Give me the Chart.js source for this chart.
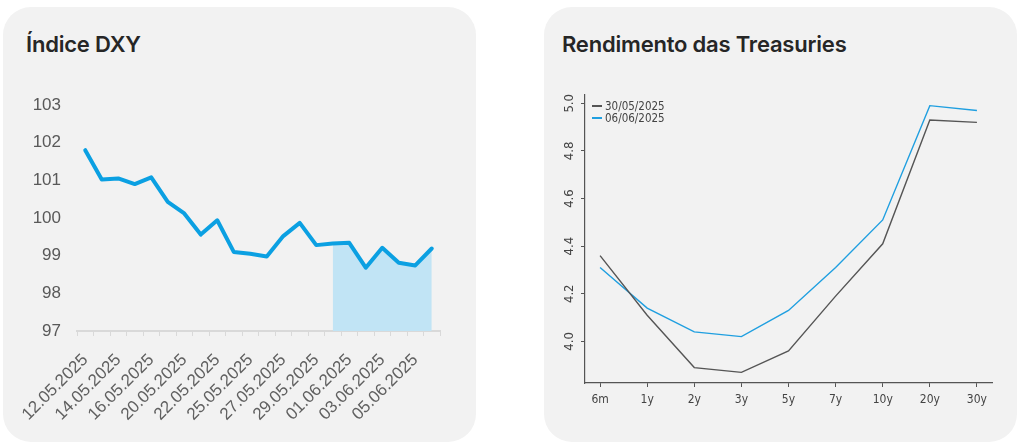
<!DOCTYPE html>
<html>
<head>
<meta charset="utf-8">
<script src="https://cdn.jsdelivr.net/npm/chart.js@4.4.1/dist/chart.umd.min.js"></script>
<style>
  html, body { margin: 0; padding: 0; background: #ffffff; }
  body { width: 1024px; height: 444px; position: relative; overflow: hidden; }
  .card { position: absolute; background: #f2f2f2; border-radius: 28px; }
  .title { position: absolute; font-family: Inter, 'Noto Sans', sans-serif; font-weight: 600; font-size: 22px; color: #262626; letter-spacing: -0.2px; }
  .wrap { position: absolute; }
  .legend { position: absolute; font-family: 'Liberation Sans Narrow', 'DejaVu Sans Condensed', sans-serif; font-size: 11.5px; color: #444; line-height: 12px; }
  .legend div { display: flex; align-items: center; height: 12px; }
  .legend span.sw { display: inline-block; width: 10px; height: 1.5px; margin-right: 3px; }
</style>
</head>
<body>
<div class="card" style="left:3px;top:7px;width:473px;height:435px;"></div>
<div class="card" style="left:544px;top:7px;width:473px;height:435px;"></div>
<div class="title" style="left:26px;top:31px;">Índice DXY</div>
<div class="title" style="left:562px;top:31px;">Rendimento das Treasuries</div>
<div class="wrap" style="left:3px;top:7px;width:473px;height:435px;"><canvas id="dxy"></canvas></div>
<div class="wrap" style="left:544px;top:7px;width:473px;height:435px;"><canvas id="tsy"></canvas></div>
<div class="legend" id="legend" style="left:592px;top:100px;"></div>
<script>
// ---- DXY data ----
const dxyDates = ['12.05.2025','13.05.2025','14.05.2025','15.05.2025','16.05.2025','19.05.2025','20.05.2025','21.05.2025','22.05.2025','23.05.2025','25.05.2025','26.05.2025','27.05.2025','28.05.2025','29.05.2025','30.05.2025','01.06.2025','02.06.2025','03.06.2025','04.06.2025','05.06.2025','06.06.2025'];
const dxyValues = [101.80,101.02,101.05,100.90,101.08,100.43,100.12,99.56,99.94,99.10,99.05,98.98,99.52,99.87,99.28,99.32,99.34,98.68,99.21,98.81,98.74,99.19];
const dxyHighlightStart = 15;
const dxyMin = 97, dxyMax = 103;

// ---- Treasuries data ----
const tenors = ['6m','1y','2y','3y','5y','7y','10y','20y','30y'];
const yields3005 = [4.36,4.11,3.89,3.87,3.96,4.19,4.41,4.93,4.92];
const yields0606 = [4.31,4.14,4.04,4.02,4.13,4.31,4.51,4.99,4.97];
const seriesLabels = ['30/05/2025','06/06/2025'];
const yieldTicks = [4.0,4.2,4.4,4.6,4.8,5.0];

const blue = '#0ba0e2';
const fillBlue = '#c1e4f5';
const leftFont = { family: "'Liberation Sans', Arial, sans-serif", size: 17 };

new Chart(document.getElementById('dxy'), {
  type: 'line',
  data: {
    labels: dxyDates,
    datasets: [
      {
        data: dxyValues,
        borderColor: blue,
        borderWidth: 4,
        borderJoinStyle: 'round',
        borderCapStyle: 'round',
        pointRadius: 0,
        tension: 0,
        fill: false
      },
      {
        data: dxyValues.map((v, i) => i >= dxyHighlightStart ? v : null),
        borderWidth: 0,
        borderColor: 'rgba(0,0,0,0)',
        backgroundColor: fillBlue,
        pointRadius: 0,
        tension: 0,
        fill: 'start'
      }
    ]
  },
  options: {
    responsive: true,
    maintainAspectRatio: false,
    animation: false,
    layout: { padding: { top: 98, right: 36, left: 0, bottom: 0 } },
    plugins: { legend: { display: false }, tooltip: { enabled: false } },
    scales: {
      x: {
        offset: true,
        grid: { display: true, drawOnChartArea: false, drawTicks: true, tickLength: 5, offset: true, color: '#d9d9d9', lineWidth: 1 },
        border: { display: true, color: '#d9d9d9', width: 2 },
        ticks: {
          autoSkip: false,
          minRotation: 45,
          maxRotation: 45,
          padding: 14,
          color: '#606060',
          font: { family: "'Liberation Sans', Arial, sans-serif", size: 17 },
          callback: (v, i) => (i % 2 === 0 ? dxyDates[i] : '')
        },
        afterFit: (s) => { s.height = 111; }
      },
      y: {
        min: dxyMin,
        max: dxyMax,
        grid: { display: false, drawTicks: false },
        border: { display: false },
        ticks: {
          stepSize: 1,
          padding: 16,
          color: '#595959',
          font: leftFont
        },
        afterFit: (s) => { s.width = 74; }
      }
    }
  }
});

const gray = '#555555';
const tsyBlue = '#1f9fe0';
const tsyFont = { family: "'Liberation Sans Narrow', 'DejaVu Sans Condensed', sans-serif", size: 12 };

new Chart(document.getElementById('tsy'), {
  type: 'line',
  data: {
    datasets: [
      {
        label: seriesLabels[0],
        data: yields3005.map((v, i) => ({ x: i, y: v })),
        borderColor: gray,
        borderWidth: 1.4,
        pointRadius: 0,
        tension: 0
      },
      {
        label: seriesLabels[1],
        data: yields0606.map((v, i) => ({ x: i, y: v })),
        borderColor: tsyBlue,
        borderWidth: 1.4,
        pointRadius: 0,
        tension: 0
      }
    ]
  },
  options: {
    responsive: true,
    maintainAspectRatio: false,
    animation: false,
    layout: { padding: { top: 88, right: 25, left: 0, bottom: 0 } },
    plugins: { legend: { display: false }, tooltip: { enabled: false } },
    scales: {
      x: {
        type: 'linear',
        min: -0.32,
        max: tenors.length - 1 + 0.32,
        afterBuildTicks: (s) => { s.ticks = tenors.map((t, i) => ({ value: i })); },
        grid: { display: true, drawOnChartArea: false, drawTicks: true, tickLength: 4, color: gray, lineWidth: 1 },
        border: { display: true, color: gray, width: 1.2 },
        ticks: {
          autoSkip: false,
          maxRotation: 0,
          padding: 6,
          color: '#444',
          font: tsyFont,
          callback: (v) => tenors[Math.round(v)]
        },
        afterFit: (s) => { s.height = 59; }
      },
      y: {
        min: 3.8252,
        max: 5.0348,
        afterBuildTicks: (s) => { s.ticks = yieldTicks.map(v => ({ value: v })); },
        grid: { display: true, drawOnChartArea: false, drawTicks: true, tickLength: 4, color: gray, lineWidth: 1 },
        border: { display: true, color: gray, width: 1.2 },
        ticks: {
          minRotation: 90,
          maxRotation: 90,
          crossAlign: 'center',
          padding: 2,
          color: '#444',
          font: { family: tsyFont.family, size: 13 },
          callback: (v) => Number(v).toFixed(1)
        },
        afterFit: (s) => { s.width = 41; }
      }
    }
  }
});

// HTML legend
const lg = document.getElementById('legend');
[[seriesLabels[0], gray], [seriesLabels[1], tsyBlue]].forEach(([t, c]) => {
  const row = document.createElement('div');
  const sw = document.createElement('span');
  sw.className = 'sw';
  sw.style.background = c;
  row.appendChild(sw);
  row.appendChild(document.createTextNode(t));
  lg.appendChild(row);
});
</script>
</body>
</html>
